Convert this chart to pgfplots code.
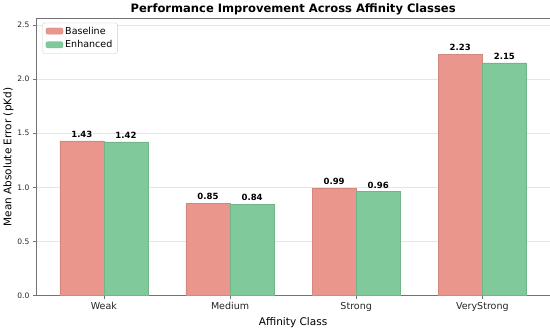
\documentclass[border=0pt]{standalone}
\usepackage{fontspec}
\setmainfont{DejaVu Sans}
\usepackage{pgfplots}
\pgfplotsset{compat=1.18}
\definecolor{basec}{HTML}{EA968D}
\definecolor{enhc}{HTML}{7FC99B}
\begin{document}
\begin{tikzpicture}
\begin{axis}[
  scale only axis,
  width=510bp, height=275bp,
  ybar, bar width=0.35,
  xmin=-0.535, xmax=3.535,
  ymin=0, ymax=2.56,
  xtick={0,1,2,3},
  xticklabels={Weak,Medium,Strong,VeryStrong},
  ytick={0,0.5,1,1.5,2,2.5},
  yticklabel style={font=\fontsize{7.5}{9}\selectfont, text=black!85, /pgf/number format/.cd,fixed,fixed zerofill,precision=1},
  /pgf/number format/assume math mode=true,
  xticklabel style={font=\fontsize{9.5}{11}\selectfont, text=black!85},
  label style={font=\fontsize{10.5}{12}\selectfont},
  xlabel={Affinity Class},
  ylabel={Mean Absolute Error (pKd)},
  title={\bfseries Performance Improvement Across Affinity Classes},
  title style={font=\fontsize{11.5}{13}\selectfont, yshift=-5.5bp},
  tick align=outside,
  xtick pos=bottom, ytick pos=left,
  major tick length=3.5bp,
  axis line style={black!55},
  tick style={black!55},
  ymajorgrids, grid style={black!10},
  legend style={at={(0.012,0.985)}, anchor=north west, draw=black!20, rounded corners=2pt, font=\fontsize{9.5}{11}\selectfont, legend cell align=left, row sep=1pt},
  legend image code/.code={\draw[#1] (0cm,-0.1cm) rectangle (0.6cm,0.12cm);},
  nodes near coords,
  nodes near coords style={font=\fontsize{8.5}{10}\bfseries\selectfont, /pgf/number format/.cd, fixed, fixed zerofill, precision=2, assume math mode=true},
  xlabel style={yshift=1bp},
  ylabel style={yshift=-3bp},
]
\addplot[fill=basec, draw=basec!90!black, line width=0.3pt, bar shift=-0.175] coordinates {(0,1.43) (1,0.85) (2,0.99) (3,2.23)};
\addplot[fill=enhc, draw=enhc!90!black, line width=0.3pt, bar shift=0.175] coordinates {(0,1.42) (1,0.84) (2,0.96) (3,2.15)};
\legend{Baseline,Enhanced}
\end{axis}
\end{tikzpicture}
\end{document}
